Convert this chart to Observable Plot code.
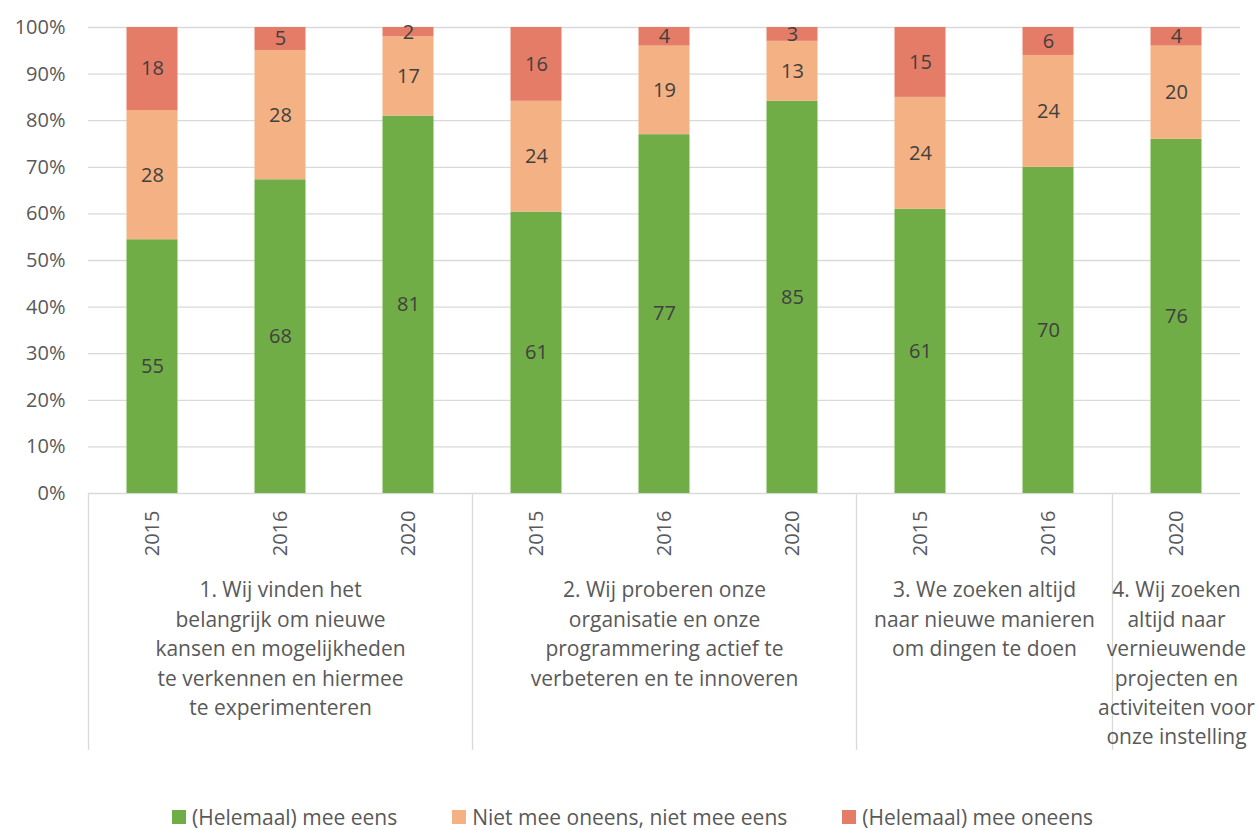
<!DOCTYPE html>
<html>
<head>
<meta charset="utf-8">
<script src="https://cdn.jsdelivr.net/npm/d3@7"></script>
<script src="https://cdn.jsdelivr.net/npm/@observablehq/plot@0.6"></script>
<style>
  body { margin: 0; background: #fff; font-family: "Open Sans", sans-serif; }
  #legend { display: flex; justify-content: center; gap: 55px; height: 26px; align-items: center; margin-top: 4px; color: #595959; font-size: 21px; line-height: 26px; padding-left: 8px; }
  #legend .item { display: flex; align-items: center; gap: 6px; white-space: nowrap; }
  #legend .sw { width: 14px; height: 14px; display: inline-block; }
</style>
</head>
<body>
<div id="chart"></div>
<div id="legend"></div>
<script>
const series = ["(Helemaal) mee eens", "Niet mee oneens, niet mee eens", "(Helemaal) mee oneens"];
const colors = ["#70AD47", "#F4B183", "#E57C67"];

const groupLabels = [
  "1. Wij vinden het\nbelangrijk om nieuwe\nkansen en mogelijkheden\nte verkennen en hiermee\nte experimenteren",
  "2. Wij proberen onze\norganisatie en onze\nprogrammering actief te\nverbeteren en te innoveren",
  "3. We zoeken altijd\nnaar nieuwe manieren\nom dingen te doen",
  "4. Wij zoeken\naltijd naar\nvernieuwende\nprojecten en\nactiviteiten voor\nonze instelling"
];
const slotGroup = [0, 0, 0, 1, 1, 1, 2, 2, 3];
const years = ["2015", "2016", "2020", "2015", "2016", "2020", "2015", "2016", "2020"];

const eens     = [55, 68, 81, 61, 77, 85, 61, 70, 76];
const neutraal = [28, 28, 17, 24, 19, 13, 24, 24, 20];
const oneens   = [18,  5,  2, 16,  4,  3, 15,  6,  4];

const valueSets = [eens, neutraal, oneens];
const rows = years.flatMap((yr, i) => series.map((s, k) => ({slot: i, year: yr, series: s, value: valueSets[k][i]})));
const slots = years.map((yr, i) => ({slot: i, year: yr}));
const groups = groupLabels.map((label, g) => {
  const idx = slotGroup.map((v, i) => (v === g ? i : -1)).filter(i => i >= 0);
  return {label, start: idx[0], end: idx[idx.length - 1] + 1};
});

const font = '"Open Sans", sans-serif';

const chart = Plot.plot({
  width: 1257,
  height: 800,
  marginLeft: 88,
  marginRight: 17,
  marginTop: 27,
  marginBottom: 307,
  style: {fontFamily: font, fontSize: "20px", color: "#595959", background: "#fff", overflow: "visible"},
  x: {domain: [0, years.length], axis: null},
  y: {domain: [0, 1], axis: null},
  color: {domain: series, range: colors},
  marks: [
    Plot.gridY({ticks: 10, stroke: "#d9d9d9", strokeOpacity: 1, strokeWidth: 1.3}),
    Plot.axisY({ticks: 10, tickFormat: d3.format(".0%"), tickSize: 0, tickPadding: 23, fontSize: 20, fill: "#595959", label: null}),
    Plot.rectY(rows, Plot.stackY({
      x1: d => d.slot, x2: d => d.slot + 1, y: "value", fill: "series",
      offset: "normalize", insetLeft: 38.5, insetRight: 38.5
    })),
    Plot.text(rows, Plot.stackY({
      x: d => d.slot + 0.5, y: "value", z: "series", text: d => String(d.value),
      offset: "normalize", fill: "#404040", fontSize: 20
    })),
    Plot.ruleX(groups, {x: d => d.start, y1: d => 0, y2: d => 0, insetBottom: -257, stroke: "#d9d9d9", strokeWidth: 1.3}),
    Plot.text(slots, {
      x: d => d.slot + 0.5, y: d => 0, text: "year", rotate: -90, textAnchor: "end",
      dy: 17, fontSize: 20, fill: "#595959"
    }),
    Plot.text(groups, {
      x: d => (d.start + d.end) / 2, y: d => 0, text: "label", lineAnchor: "top",
      lineHeight: 1.4, dy: 83, fontSize: 21, fill: "#595959"
    })
  ]
});
document.getElementById("chart").append(chart);

const legend = document.getElementById("legend");
series.forEach((s, k) => {
  const item = document.createElement("div");
  item.className = "item";
  const sw = document.createElement("span");
  sw.className = "sw";
  sw.style.background = colors[k];
  const t = document.createElement("span");
  t.textContent = s;
  item.append(sw, t);
  legend.append(item);
});
</script>
</body>
</html>
